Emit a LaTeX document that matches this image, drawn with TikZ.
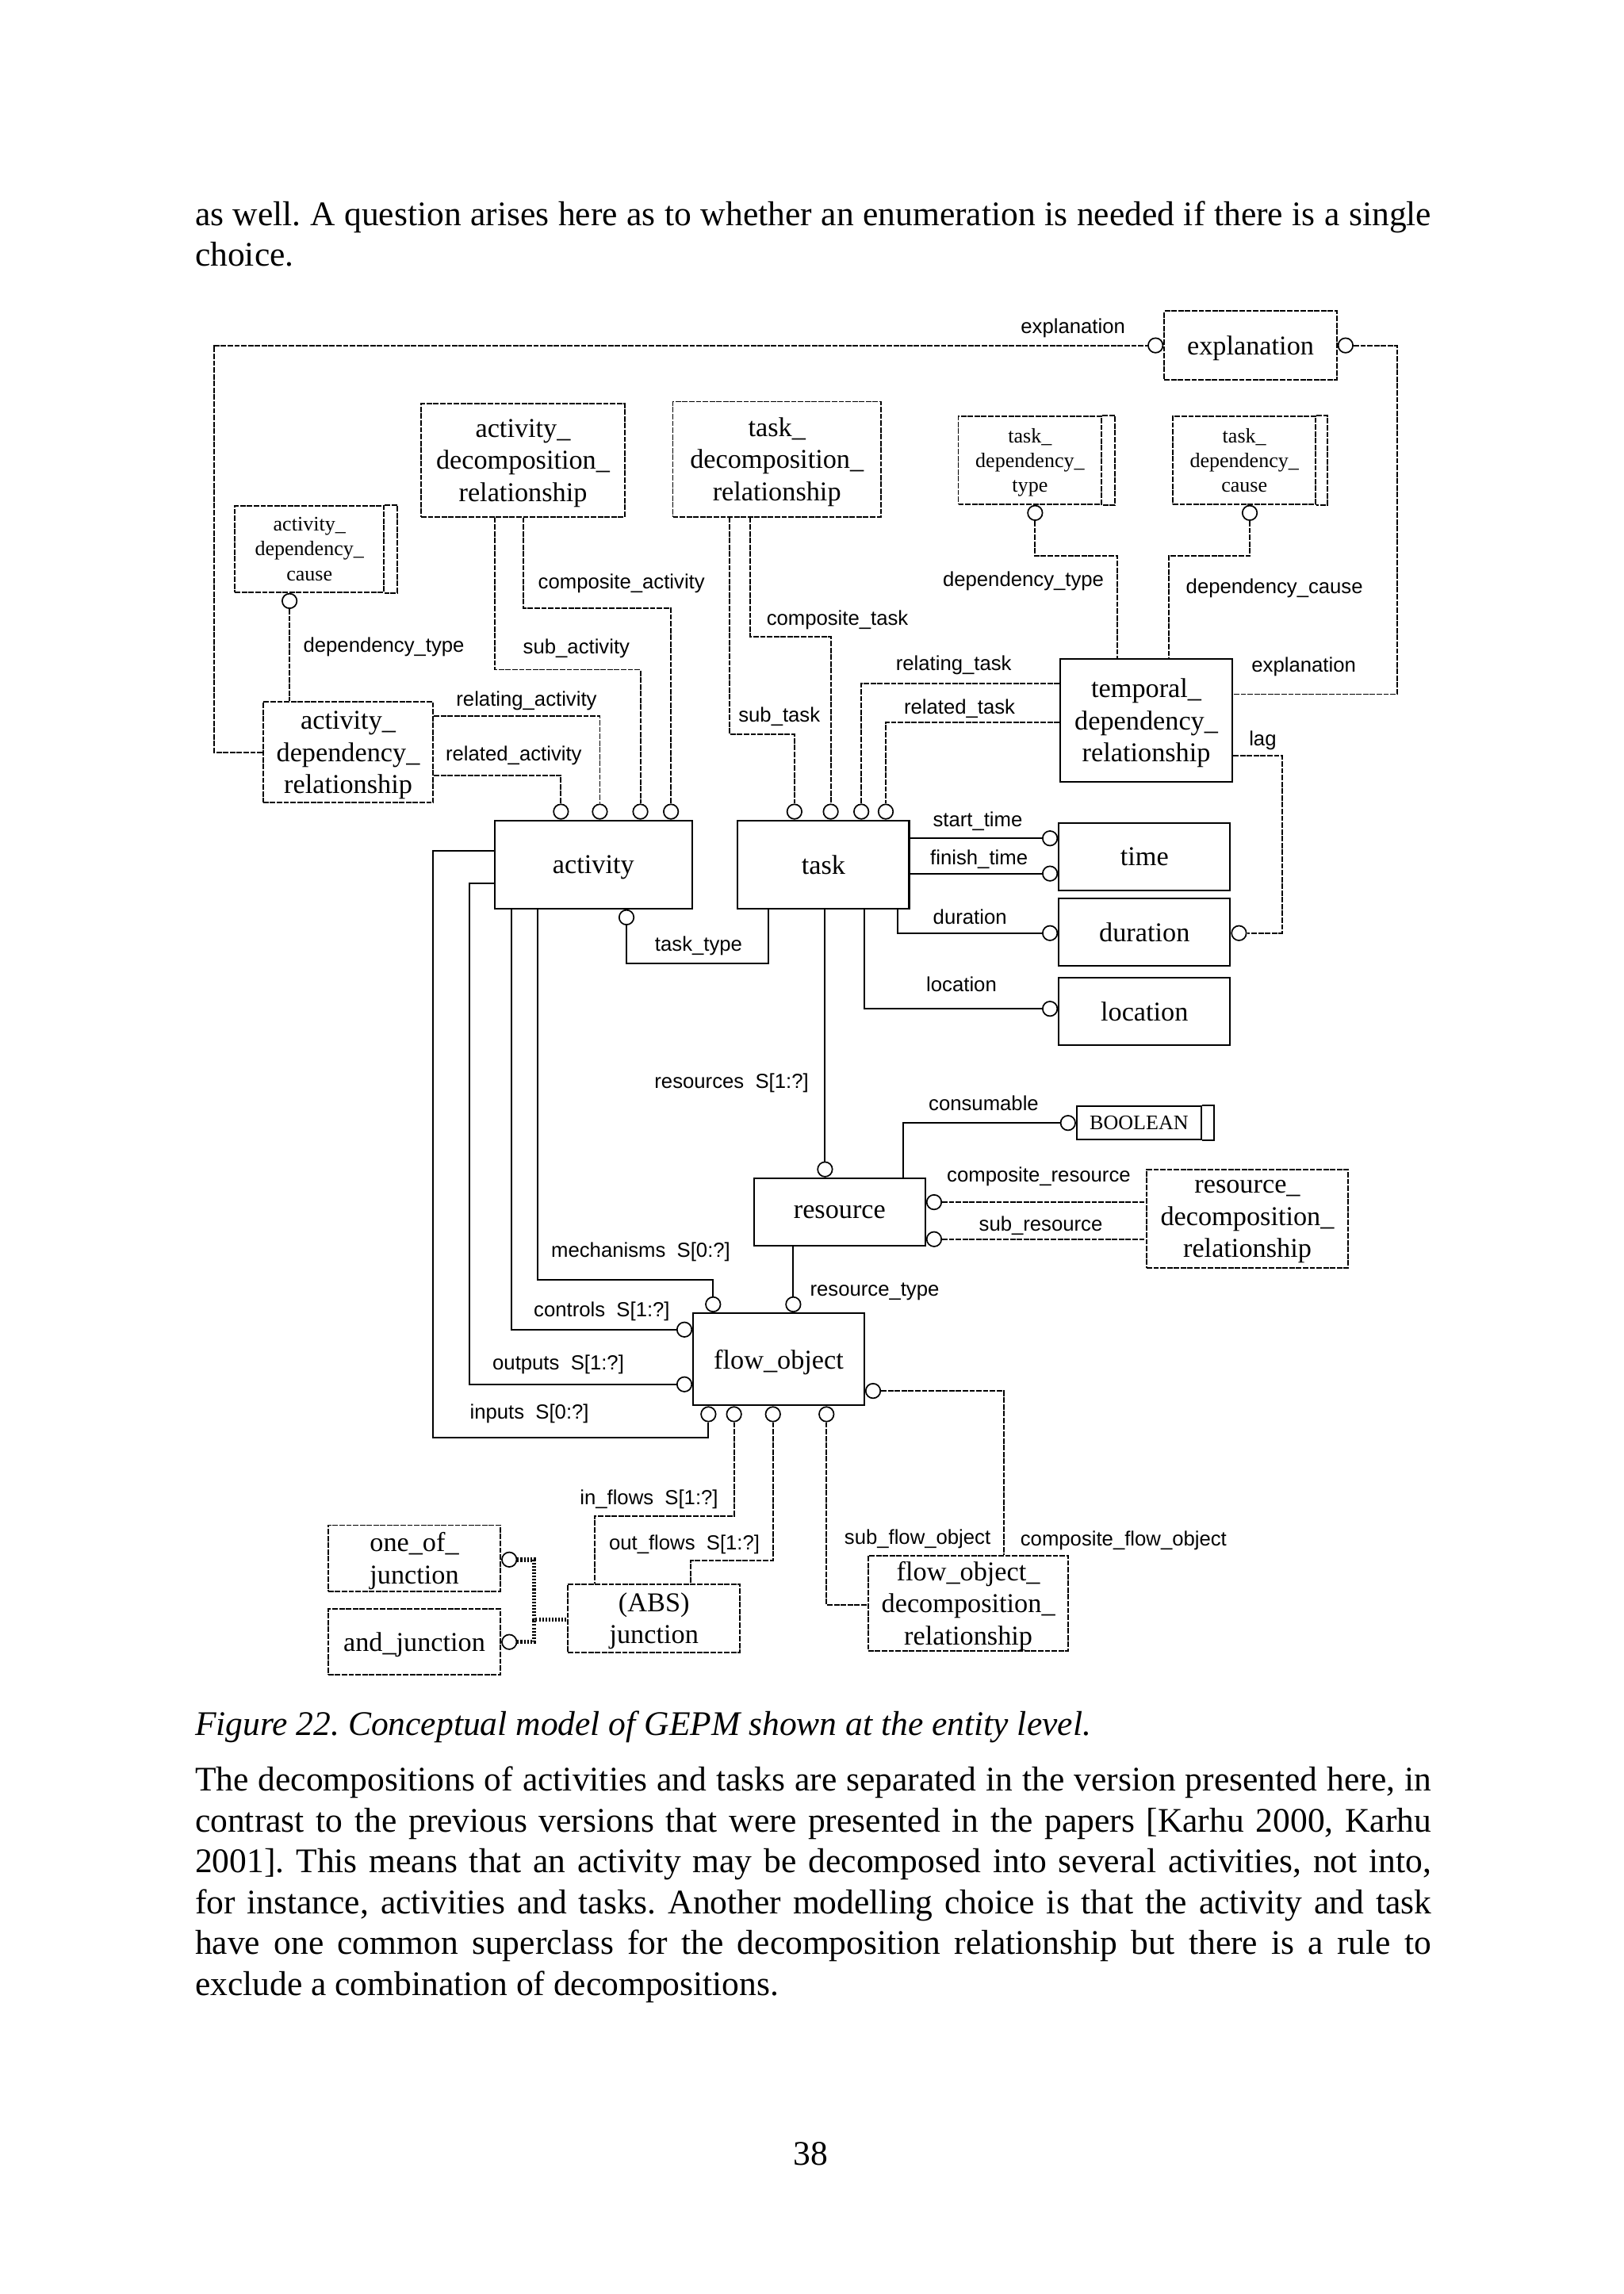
\documentclass[tikz,border=0pt]{standalone}
\usepackage{fontspec}
\setmainfont{Liberation Serif}
\newfontfamily\arialf{Liberation Sans}
\newlength\pxu
\setlength\pxu{0.018919cm}
\newcommand\entfont{\fontsize{10}{11.8}\selectfont}
\newcommand\typfont{\fontsize{7.6}{9.1}\selectfont}
\newcommand\lblfont{\arialf\fontsize{7.5}{9}\selectfont}
\newcommand\bodyfont{\fontsize{12.7}{15.3}\selectfont\frenchspacing}

\tikzset{
  ent/.style={draw, line width=0.6pt, inner sep=0pt, align=center, text depth=-3pt, font=\entfont},
  dent/.style={ent, line width=0.55pt, dash pattern=on 2pt off 0.5pt},
  typ/.style={dent, font=\typfont, text depth=-1.8pt},
  ltwo/.style={text depth=-2pt},
  lthree/.style={text depth=-1pt},
  sz/.style args={#1x#2}{minimum width=#1*\pxu, minimum height=#2*\pxu},
  ring/.style={draw, solid, circle, fill=white, line width=0.5pt, inner sep=0pt, minimum size=5.4pt},
  sl/.style={line width=0.6pt},
  dl/.style={line width=0.55pt, dash pattern=on 2pt off 0.5pt},
  tl/.style={line width=1.6pt, dash pattern=on 0.6pt off 0.6pt},
  lbl/.style={font=\lblfont, inner sep=0pt, anchor=base west},
  body/.style={font=\bodyfont, inner sep=0pt, anchor=base west},
}

\begin{document}
\begin{tikzpicture}[x=0.018919cm, y=-0.018919cm]
    \useasboundingbox (0,0) rectangle (1110,1568);

    % Text above
    \node[body] (t1) at (133,154) {\makebox[845\pxu][s]{as well. A question arises here as to whether an enumeration is needed if there is a single}};
    \node[body] (t2) at (133,182) {choice.};

    % Entities
    \node[dent, sz=117.9x46.8] (expl) at (854.75,236.1) {explanation};
    \node[dent, lthree, sz=139.3x77.1] (adr) at (357.45,314.65) {activity\_\\decomposition\_\\relationship};
    \node[dent, lthree, sz=142.2x78.7] (tdr) at (531,313.85) {task\_\\decomposition\_\\relationship};
    \node[dent, lthree, sz=116.1x69] (adep) at (237.95,514.2) {activity\_\\dependency\_\\relationship};
    \node[ent, lthree, sz=117.6x84] (tmp) at (783.5,492.4) {temporal\_\\dependency\_\\relationship};
    \node[ent, sz=135x60.2] (act) at (405.6,590.9) {activity};
    \node[ent, sz=117.1x60.2] (task) at (562.85,590.9) {task};
    \node[ent, sz=117.1x46.1] (time) at (782.25,585.45) {time};
    \node[ent, sz=117.1x46.1] (dur) at (782.25,636.95) {duration};
    \node[ent, sz=117.1x46] (loc) at (782.25,691.5) {location};
    \node[ent, sz=117x46] (res) at (573.9,828.3) {resource};
    \node[dent, lthree, sz=137.7x67.3] (rdr) at (852.55,833.15) {resource\_\\decomposition\_\\relationship};
    \node[ent, sz=116.9x63] (fo) at (532.25,929.1) {flow\_object};
    \node[dent, ltwo, sz=117.8x45.1] (oneof) at (283.2,1065.05) {one\_of\_\\junction};
    \node[dent, sz=117.8x45] (andj) at (283.2,1122.4) {and\_junction};
    \node[dent, ltwo, sz=117.8x46.8] (absj) at (447,1106.1) {(ABS)\\junction};
    \node[dent, lthree, sz=136.9x65] (fodr) at (661.85,1095.8) {flow\_object\_\\decomposition\_\\relationship};

    % Simple types (with bar)
    \node[typ, sz=98x60.2] (tdt) at (704,314.5) {task\_\\dependency\_\\type};
    \node[typ, sz=97.8x60.2] (tdc) at (850.5,314.5) {task\_\\dependency\_\\cause};
    \node[typ, sz=101.8x59.1] (adc) at (211.5,375.25) {activity\_\\dependency\_\\cause};
    \node[ent, font=\typfont, sz=85.1x22.9] (bool) at (778.55,767.55) {BOOLEAN};
    \draw[dl] (tdt.north east) -- ++(8.5,0) |- (tdt.south east);
    \draw[dl] (tdc.north east) -- ++(7.3,0) |- (tdc.south east);
    \draw[dl] (adc.north east) -- ++(8.6,0) |- (adc.south east);
    \draw[sl] (bool.north east) -- ++(8.3,0) |- (bool.south east);

    % Circles
    \node[ring, anchor=east] (rexl) at (expl.west) {};
    \node[ring, anchor=west] (rexr) at (expl.east) {};
    \node[ring, anchor=north] (radc) at (197.9,0 |- adc.south) {};
    \node[ring, anchor=south] (rra) at (383.4,0 |- act.north) {};
    \node[ring, anchor=south] (rga) at (410,0 |- act.north) {};
    \node[ring, anchor=south] (rsa) at (437.7,0 |- act.north) {};
    \node[ring, anchor=south] (rca) at (458.6,0 |- act.north) {};
    \node[ring, anchor=south] (rst) at (543,0 |- task.north) {};
    \node[ring, anchor=south] (rct) at (567.8,0 |- task.north) {};
    \node[ring, anchor=south] (rgt) at (588.7,0 |- task.north) {};
    \node[ring, anchor=south] (rrt) at (605.4,0 |- task.north) {};
    \node[ring, anchor=north] (rtdt) at (707.5,0 |- tdt.south) {};
    \node[ring, anchor=north] (rtdc) at (854.2,0 |- tdc.south) {};
    \node[ring, anchor=east] (rstart) at (time.west |- 0,573) {};
    \node[ring, anchor=east] (rfin) at (time.west |- 0,597.1) {};
    \node[ring, anchor=east] (rdurl) at (dur.west |- 0,637.8) {};
    \node[ring, anchor=west] (rdurr) at (dur.east |- 0,637.8) {};
    \node[ring, anchor=east] (rloc) at (loc.west |- 0,689.5) {};
    \node[ring, anchor=north] (rtt) at (428.2,0 |- act.south) {};
    \node[ring, anchor=south] (rres) at (563.9,0 |- res.north) {};
    \node[ring, anchor=east] (rbool) at (bool.west) {};
    \node[ring, anchor=west] (rcr) at (res.east |- 0,821.7) {};
    \node[ring, anchor=west] (rsr) at (res.east |- 0,847) {};
    \node[ring, anchor=south] (rmech) at (487.4,0 |- fo.north) {};
    \node[ring, anchor=south] (rrty) at (542.2,0 |- fo.north) {};
    \node[ring, anchor=east] (rctl) at (fo.west |- 0,908.8) {};
    \node[ring, anchor=east] (rout) at (fo.west |- 0,946.2) {};
    \node[ring, anchor=north] (rin) at (484.2,0 |- fo.south) {};
    \node[ring, anchor=north] (rinf) at (501.7,0 |- fo.south) {};
    \node[ring, anchor=north] (routf) at (528.3,0 |- fo.south) {};
    \node[ring, anchor=north] (rsfo) at (564.9,0 |- fo.south) {};
    \node[ring, anchor=west] (rcfo) at (fo.east |- 0,950.7) {};
    \node[ring, anchor=west] (rone) at (oneof.east |- 0,1066) {};
    \node[ring, anchor=west] (rand) at (andj.east |- 0,1122.3) {};

    % Explanation
    \draw[dl] (adep.west) -- (146.3,0 |- adep.west) |- (rexl.west);
    \draw[dl] (rexr.east) -| (955,474.5) -- (tmp.east |- 0,474.5);
    \node[lbl] (lexp1) at (697.4,228) {explanation};
    \node[lbl] (lexp2) at (855.1,459.4) {explanation};

    % Activity dependency
    \draw[dl] (radc.south) -- (radc.south |- adep.north);
    \draw[dl] (adep.east |- 0,489.5) -| (rga.north);
    \draw[dl] (adep.east |- 0,530) -| (rra.north);
    \node[lbl] (ldt1) at (207,446) {dependency\_type};
    \node[lbl] (lrga) at (311.5,482.6) {relating\_activity};
    \node[lbl] (lrra) at (304.3,520) {related\_activity};

    % Activity decomposition
    \draw[dl] (338,0 |- adr.south) -- (338,457.7) -| (rsa.north);
    \draw[dl] (357.5,0 |- adr.south) -- (357.5,415.6) -| (rca.north);
    \node[lbl] (lsa) at (357.2,447) {sub\_activity};
    \node[lbl] (lca) at (367.5,402.7) {composite\_activity};

    % Task decomposition
    \draw[dl] (498.8,0 |- tdr.south) -- (498.8,502) -| (rst.north);
    \draw[dl] (512.8,0 |- tdr.south) -- (512.8,435.2) -| (rct.north);
    \node[lbl] (lst) at (504.4,493.5) {sub\_task};
    \node[lbl] (lct) at (523.6,427.5) {composite\_task};

    % Temporal dependency
    \draw[dl] (tmp.west |- 0,467.1) -| (rgt.north);
    \draw[dl] (tmp.west |- 0,493.6) -| (rrt.north);
    \draw[dl] (rtdt.south) |- (763.9,380.1) -- (763.9,0 |- tmp.north);
    \draw[dl] (rtdc.south) |- (798.9,380.1) -- (798.9,0 |- tmp.north);
    \draw[dl] (tmp.east |- 0,516.5) -| (876.2,637.8) -- (rdurr.east);
    \node[lbl] (lrgt) at (612,458.3) {relating\_task};
    \node[lbl] (lrrt) at (617.5,488.2) {related\_task};
    \node[lbl] (ldt2) at (644.1,401) {dependency\_type};
    \node[lbl] (ldc) at (810.3,405.5) {dependency\_cause};
    \node[lbl] (llag) at (853.4,510) {lag};

    % Task attributes
    \draw[sl] (task.east |- rstart) -- (rstart.west);
    \draw[sl] (task.east |- rfin) -- (rfin.west);
    \draw[sl] (613.4,0 |- task.south) |- (rdurl.west);
    \draw[sl] (591,0 |- task.south) |- (rloc.west);
    \draw[sl] (rtt.south) |- (525.2,658.5) -- (525.2,0 |- task.south);
    \draw[sl] (rres.north |- task.south) -- (rres.north);
    \node[lbl] (lstart) at (637.3,565) {start\_time};
    \node[lbl] (lfin) at (635.5,591.2) {finish\_time};
    \node[lbl] (ldur) at (637.4,631.8) {duration};
    \node[lbl] (lloc) at (632.8,677.9) {location};
    \node[lbl] (ltt) at (447.3,650.2) {task\_type};
    \node[lbl] (lres) at (447,743.8) {resources\ \ S[1:?]};

    % Resource
    \draw[sl] (617.4,0 |- res.north) |- (rbool.west);
    \draw[dl] (rcr.east) -- (rdr.west |- rcr.east);
    \draw[dl] (rsr.east) -- (rdr.west |- rsr.east);
    \draw[sl] (rrty.north |- res.south) -- (rrty.north);
    \node[lbl] (lcons) at (634.4,759.2) {consumable};
    \node[lbl] (lcr) at (646.9,808) {composite\_resource};
    \node[lbl] (lsr) at (668.8,841.4) {sub\_resource};
    \node[lbl] (lrty) at (553.3,885.7) {resource\_type};

    % Flow object
    \draw[sl] (367.7,0 |- act.south) -- (367.7,875) -| (rmech.north);
    \draw[sl] (349.4,0 |- act.south) |- (rctl.west);
    \draw[sl] (act.west |- 0,604) -| (321,946.2) -- (rout.west);
    \draw[sl] (act.west |- 0,581.7) -| (296,982.8) -| (rin.south);
    \node[lbl] (lmech) at (376.4,859.5) {mechanisms\ \ S[0:?]};
    \node[lbl] (lctl) at (364.5,900.1) {controls\ \ S[1:?]};
    \node[lbl] (lout) at (336.3,936.2) {outputs\ \ S[1:?]};
    \node[lbl] (lin) at (320.8,969.7) {inputs\ \ S[0:?]};

    % Flow object decomposition
    \draw[dl] (rcfo.east) -| (686,0 |- fodr.north);
    \draw[dl] (rsfo.south) |- (fodr.west |- 0,1097);
    \node[lbl] (lsfo) at (576.8,1055.5) {sub\_flow\_object};
    \node[lbl] (lcfo) at (697.1,1056.4) {composite\_flow\_object};

    % Junctions
    \draw[dl] (rinf.south) |- (406.3,1036.1) -- (406.3,0 |- absj.north);
    \draw[dl] (routf.south) |- (471.9,1066.5) -- (471.9,0 |- absj.north);
    \draw[tl] (rone.east) -| (364.9,1107) -- (absj.west |- 0,1107);
    \draw[tl] (rand.east) -| (364.9,1107);
    \node[lbl] (linf) at (396,1028.4) {in\_flows\ \ S[1:?]};
    \node[lbl] (loutf) at (415.9,1059.1) {out\_flows\ \ S[1:?]};

    % Text below
    \node[body, font=\bodyfont\itshape] (cap) at (133,1186) {Figure 22. Conceptual model of GEPM shown at the entity level.};
    \node[body] (p1) at (133,1224) {\makebox[845\pxu][s]{The decompositions of activities and tasks are separated in the version presented here, in}};
    \node[body] (p2) at (133,1252) {\makebox[845\pxu][s]{contrast to the previous versions that were presented in the papers [Karhu 2000, Karhu}};
    \node[body] (p3) at (133,1280) {\makebox[845\pxu][s]{2001]. This means that an activity may be decomposed into several activities, not into,}};
    \node[body] (p4) at (133,1308) {\makebox[845\pxu][s]{for instance, activities and tasks. Another modelling choice is that the activity and task}};
    \node[body] (p5) at (133,1336) {\makebox[845\pxu][s]{have one common superclass for the decomposition relationship but there is a rule to}};
    \node[body] (p6) at (133,1364) {exclude a combination of decompositions.};
    \node[body, anchor=base] (pg) at (554,1480) {38};
\end{tikzpicture}
\end{document}
